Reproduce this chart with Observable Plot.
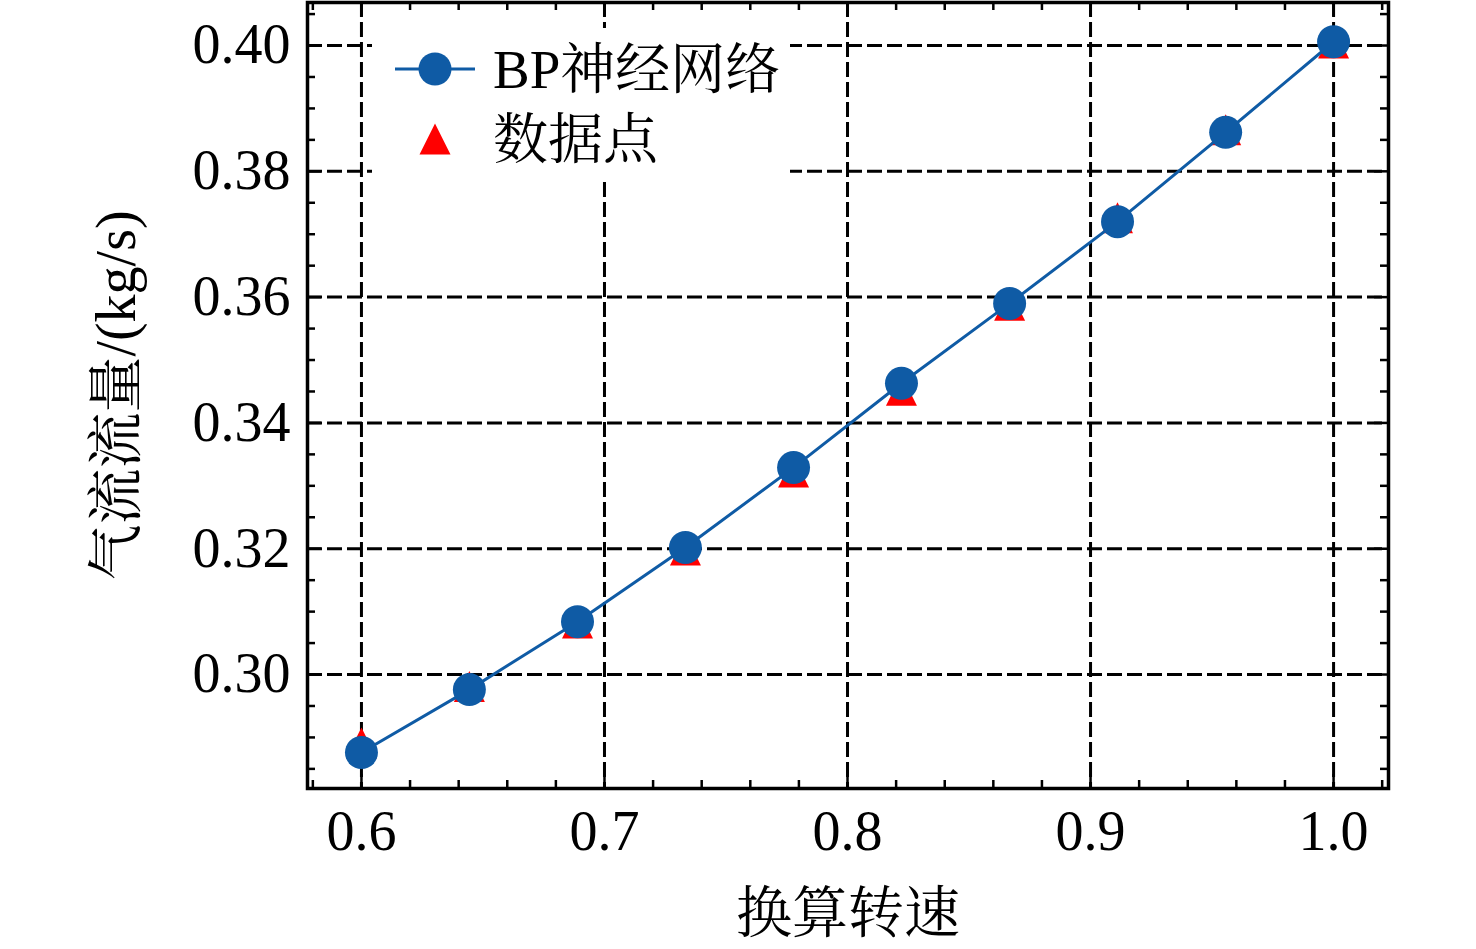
<!DOCTYPE html>
<html>
<head>
<meta charset="utf-8">
<script src="https://cdn.jsdelivr.net/npm/d3@7"></script>
<script src="https://cdn.jsdelivr.net/npm/@observablehq/plot@0.6"></script>
<style>
  html, body { margin: 0; padding: 0; background: #fff; }
  #wrap { position: relative; width: 1476px; height: 949px; overflow: hidden; }
  #legend { position: absolute; left: 372px; top: 28px; width: 418px; height: 152px; background: #fff; }
</style>
</head>
<body>
<div id="wrap"><div id="legend"></div></div>
<script>
// ---- data ----
const speed = [0.6, 0.6444, 0.6889, 0.7333, 0.7778, 0.8222, 0.8667, 0.9111, 0.9556, 1.0];
const bpFlow = [0.2876, 0.2976, 0.3084, 0.3202, 0.3329, 0.3463, 0.3590, 0.3720, 0.3862, 0.4006];
const sampleFlow = [0.2891, 0.2981, 0.3082, 0.3198, 0.3322, 0.3452, 0.3587, 0.3726, 0.3866, 0.4004];

const majorX = [0.6, 0.7, 0.8, 0.9, 1.0];
const minorX = [0.58, 0.62, 0.64, 0.66, 0.68, 0.72, 0.74, 0.76, 0.78, 0.82, 0.84, 0.86, 0.88, 0.92, 0.94, 0.96, 0.98, 1.02];
const majorY = [0.30, 0.32, 0.34, 0.36, 0.38, 0.40];
const minorY = [0.285, 0.29, 0.295, 0.305, 0.31, 0.315, 0.325, 0.33, 0.335, 0.345, 0.35, 0.355, 0.365, 0.37, 0.375, 0.385, 0.39, 0.395, 0.405];

const seriesNames = ["BP神经网络", "数据点"];
const xLabel = "换算转速";
const yLabel = "气流流量/(kg/s)";

const blue = "#0F5BA5";
const red = "#FF0000";
const fontFamily = "'Liberation Serif', 'Times New Roman', 'Noto Serif CJK SC', 'Noto Sans CJK SC', serif";

const W = 1476, H = 949;
const mL = 307, mR = 88, mT = 2, mB = 161;
const plotW = W - mL - mR, plotH = H - mT - mB;

const rows = speed.map((s, i) => ({s, bp: bpFlow[i], d: sampleFlow[i]}));

// matplotlib-like triangle (bbox centered, width = height)
const triUp = {
  draw(ctx, size) {
    const r = Math.sqrt(size / Math.PI);
    ctx.moveTo(0, -r);
    ctx.lineTo(r, r);
    ctx.lineTo(-r, r);
    ctx.closePath();
  }
};

const majL = 14, minL = 8, tw = 2.5;
const gridStyle = {stroke: "#000", strokeOpacity: 1, strokeWidth: 3, strokeDasharray: "15,5"};

const chart = Plot.plot({
  width: W, height: H,
  marginLeft: mL, marginRight: mR, marginTop: mT, marginBottom: mB,
  style: {fontFamily, background: "#fff", overflow: "visible"},
  x: {domain: [0.5778, 1.0226]},
  y: {domain: [0.28188, 0.40684]},
  marks: [
    Plot.gridX(majorX, gridStyle),
    Plot.gridY(majorY, gridStyle),
    // inward ticks
    Plot.ruleX(majorX, {x: d => d, insetTop: plotH - majL, stroke: "#000", strokeWidth: tw}),
    Plot.ruleX(majorX, {x: d => d, insetBottom: plotH - majL, stroke: "#000", strokeWidth: tw}),
    Plot.ruleX(minorX, {x: d => d, insetTop: plotH - minL, stroke: "#000", strokeWidth: tw}),
    Plot.ruleX(minorX, {x: d => d, insetBottom: plotH - minL, stroke: "#000", strokeWidth: tw}),
    Plot.ruleY(majorY, {y: d => d, insetRight: plotW - majL, stroke: "#000", strokeWidth: tw}),
    Plot.ruleY(majorY, {y: d => d, insetLeft: plotW - majL, stroke: "#000", strokeWidth: tw}),
    Plot.ruleY(minorY, {y: d => d, insetRight: plotW - minL, stroke: "#000", strokeWidth: tw}),
    Plot.ruleY(minorY, {y: d => d, insetLeft: plotW - minL, stroke: "#000", strokeWidth: tw}),
    Plot.axisX({
      ticks: majorX, tickSize: 0, tickPadding: 22, tickFormat: d3.format(".1f"),
      fontSize: 56, label: xLabel, labelAnchor: "center", labelOffset: 143, labelArrow: "none", color: "#000"
    }),
    Plot.axisY({
      ticks: majorY, tickSize: 0, tickPadding: 17, tickFormat: d3.format(".2f"),
      fontSize: 56, label: yLabel, labelAnchor: "center", labelOffset: 212, labelArrow: "none", color: "#000"
    }),
    Plot.dot(rows, {x: "s", y: "d", r: 15.5, symbol: triUp, fill: red, stroke: "none"}),
    Plot.line(rows, {x: "s", y: "bp", stroke: blue, strokeWidth: 3}),
    Plot.dot(rows, {x: "s", y: "bp", r: 16.5, fill: blue, stroke: "none"}),
    Plot.frame({stroke: "#000", strokeWidth: 3.5})
  ]
});

const wrap = document.getElementById("wrap");
wrap.insertBefore(chart, wrap.firstChild);

// legend overlay
const lg = d3.select("#legend").append("svg")
  .attr("width", 418).attr("height", 152)
  .style("font-family", fontFamily);
lg.append("line").attr("x1", 23).attr("x2", 103).attr("y1", 41).attr("y2", 41)
  .attr("stroke", blue).attr("stroke-width", 3);
lg.append("circle").attr("cx", 63).attr("cy", 41).attr("r", 16.5).attr("fill", blue);
lg.append("path").attr("d", "M63,95.5 L78.5,126.5 L47.5,126.5 Z").attr("fill", red);
lg.append("text").attr("x", 121).attr("y", 41).attr("dy", "0.35em")
  .attr("font-size", 55).attr("fill", "#000").text(seriesNames[0]);
lg.append("text").attr("x", 121).attr("y", 111).attr("dy", "0.35em")
  .attr("font-size", 55).attr("fill", "#000").text(seriesNames[1]);
</script>
</body>
</html>
